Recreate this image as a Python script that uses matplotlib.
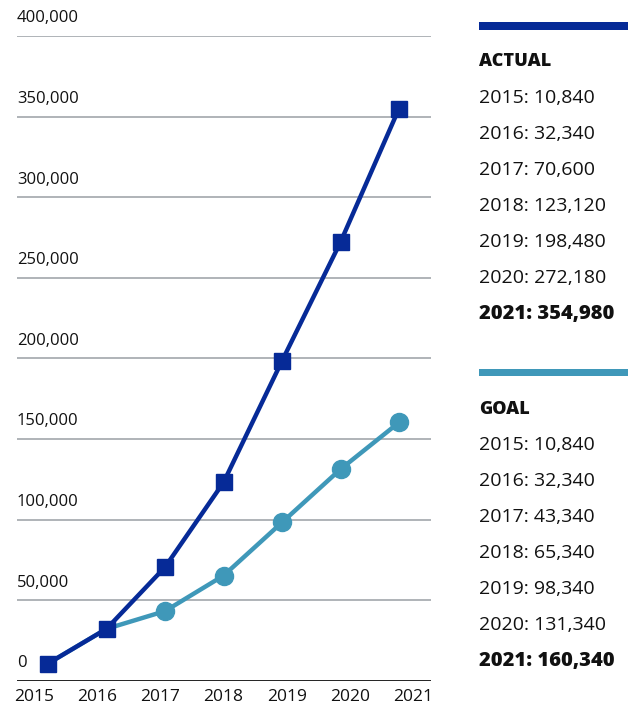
import matplotlib
matplotlib.use("Agg")
import matplotlib.pyplot as plt
from matplotlib.transforms import blended_transform_factory

years = [2015, 2016, 2017, 2018, 2019, 2020, 2021]
actual = [10840, 32340, 70600, 123120, 198480, 272180, 354980]
goal = [10840, 32340, 43340, 65340, 98340, 131340, 160340]
y_ticks = [0, 50000, 100000, 150000, 200000, 250000, 300000, 350000, 400000]
x_labels = ["2015", "2016", "2017", "2018", "2019", "2020", "2021"]

ACTUAL_COLOR = "#062a97"
GOAL_COLOR = "#3f98b9"
GRID_COLOR = "#9a9fa4"
TEXT_COLOR = "#111111"
FONT = ["Open Sans", "DejaVu Sans"]

plt.rcParams["font.family"] = FONT

W, H = 628, 709
fig = plt.figure(figsize=(W / 100, H / 100), dpi=100)

# plot area in pixels
x0, x1 = 17, 431
y_bot, y_top = 681, 36
ax = fig.add_axes([x0 / W, (H - y_bot) / H, (x1 - x0) / W, (y_bot - y_top) / H])
ax.set_ylim(0, 400000)
ax.set_xlim(-0.53, 6.547)
for s in ax.spines.values():
    s.set_visible(False)
ax.set_xticks([])
ax.set_yticks([])
ax.patch.set_alpha(0)

# horizontal grid lines with labels above them
blend = blended_transform_factory(ax.transAxes, ax.transData)
for v in y_ticks:
    if v == 0:
        ax.axhline(v, color="#222222", lw=1.4, zorder=1)
    else:
        ax.axhline(v, color=GRID_COLOR, lw=1.1, zorder=1)
    ax.annotate(f"{v:,}", xy=(0, v), xycoords=blend, xytext=(0, 7),
                textcoords="offset points", ha="left", va="bottom",
                fontsize=12, color=TEXT_COLOR)

# year labels along the bottom
for i, lab in enumerate(x_labels):
    px = 34 + 63.2 * i
    fig.text(px / W, 1 - 697 / H, lab, ha="center", va="center",
             fontsize=12.5, color=TEXT_COLOR)

xs = list(range(len(years)))
ax.plot(xs, goal, color=GOAL_COLOR, lw=3.2, marker="o", ms=13,
        markevery=list(range(2, len(xs))), zorder=3, clip_on=False,
        solid_capstyle="butt")
ax.plot(xs, actual, color=ACTUAL_COLOR, lw=3.2, marker="s", ms=11.5,
        zorder=4, clip_on=False)

# side legend with values
lx = 479 / W


def block(bar_y, title_y, color, title, values):
    fig.add_artist(plt.Rectangle((lx, 1 - (bar_y + 7.5) / H), 1 - lx, 7.5 / H,
                                 transform=fig.transFigure, color=color, lw=0))
    fig.text(lx, 1 - title_y / H, title, ha="left", va="center",
             fontsize=13, fontweight=800, color=TEXT_COLOR)
    for i, (yr, v) in enumerate(zip(years, values)):
        last = i == len(values) - 1
        fig.text(lx, 1 - (title_y + 36 * (i + 1)) / H, f"{yr}: {v:,}",
                 ha="left", va="center", fontsize=14.5 if last else 14,
                 fontweight=800 if last else "normal", color=TEXT_COLOR)


block(22, 62, ACTUAL_COLOR, "ACTUAL", actual)
block(369, 409, GOAL_COLOR, "GOAL", goal)

fig.savefig("out.png", dpi=100)
